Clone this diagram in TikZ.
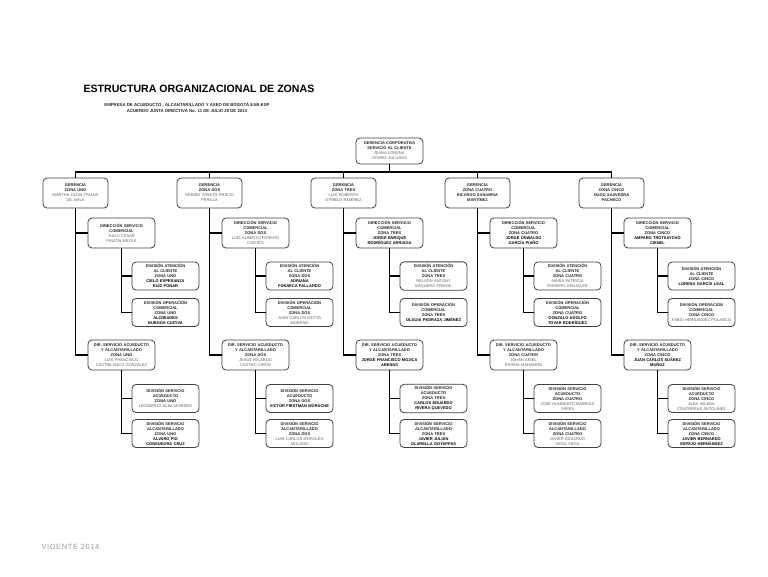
\documentclass[tikz,border=0pt]{standalone}
\usepackage{fontspec}
\setmainfont{Liberation Sans}
\usepackage{tikz}
\usetikzlibrary{positioning}
\newcommand\nom[1]{{\mdseries\color{black!62}#1}}
\newcommand\hv[1]{{\color{black}#1}}

\begin{document}
\begin{tikzpicture}[
  x=1pt, y=-1pt, font=\fontsize{4}{5}\selectfont\bfseries, text=black!85,
  bx/.style={rectangle, rounded corners=4pt, draw=black!75, line width=0.8pt,
             fill=white, align=center, inner sep=2pt},
  ger/.style={bx, text width=61pt, minimum height=30pt},
  dir/.style={bx, text width=63pt, minimum height=30pt},
  div/.style={bx, text width=63pt, minimum height=28pt},
  bus/.style={draw=black, line width=1.2pt},
  tr/.style={draw=black, line width=1.9pt}]
  \useasboundingbox (0,0) rectangle (768,576);
  % titles
  \node[anchor=base west, font=\fontsize{10.6}{12}\selectfont\bfseries, text=black] (ttl)
       at (80,92) {ESTRUCTURA ORGANIZACIONAL DE ZONAS};
  \node[anchor=base, font=\fontsize{4.3}{5}\selectfont\bfseries] (sub1) at (187,106)
       {EMPRESA DE ACUEDUCTO , ALCANTARILLADO  Y ASEO DE BOGOTÁ EAB-ESP};
  \node[anchor=base, font=\fontsize{4.3}{5}\selectfont\bfseries] (sub2) at (187,112)
       {ACUERDO JUNTA DIRECTIVA No. 11 DE JULIO 25 DE 2013};
  \node[bx, text width=63pt, minimum height=26pt] (gcs) at (389.5,151)
       {GERENCIA CORPORATIVA\\SERVICIO AL CLIENTE\\\nom{DIANA LORENA}\\\nom{GÓMEZ ZULUAGA}};
  % zona uno
  \node[ger] (g1)  at (75.5,193)  {GERENCIA\\ZONA UNO\\\nom{MARTHA OLIVA TRIANA}\\\nom{DE AVILA}};
  \node[dir] (dc1) at (121.5,233) {DIRECCIÓN SERVICIO\\COMERCIAL\\\nom{JULIO CESAR}\\\nom{PINZÓN REYES}};
  \node[div] (da1) at (165.5,276) {DIVISIÓN ATENCIÓN\\AL CLIENTE\\ZONA UNO\\\hv{CIELO ESPERANZA}\\\hv{RUÍZ PONAR}};
  \node[div] (do1) at (165.5,312.5) {DIVISIÓN OPERACIÓN\\COMERCIAL\\ZONA UNO\\\hv{ALCIBIADES}\\\hv{BURGOS CUITIVA}};
  \node[dir] (dq1) at (121.5,355) {DIR. SERVICIO ACUEDUCTO\\Y ALCANTARILLADO\\ZONA UNO\\\nom{LUIS FRANCISCO}\\\nom{CASTIBLANCO GONZÁLEZ}};
  \node[div] (va1) at (165.5,398.5) {DIVISIÓN SERVICIO\\ACUEDUCTO\\ZONA UNO\\\nom{LEONARDO ALBA MORENO}};
  \node[div] (vl1) at (165.5,433.5) {DIVISIÓN SERVICIO\\ALCANTARILLADO\\ZONA UNO\\\hv{ALVARO PIO}\\\hv{CONSUEGRA CRUZ}};
  % zona dos
  \node[ger] (g2)  at (209.5,193) {GERENCIA\\ZONA DOS\\\nom{NERIER YANETH PRIETO}\\\nom{PERILLA}};
  \node[dir] (dc2) at (255.5,233) {DIRECCIÓN SERVICIO\\COMERCIAL\\ZONA DOS\\\nom{LUIS ALBERTO FORERO}\\\nom{CORTÉS}};
  \node[div] (da2) at (299.5,276) {DIVISIÓN ATENCIÓN\\AL CLIENTE\\ZONA DOS\\\hv{ADRIANA}\\\hv{FONSECA PALLARDO}};
  \node[div] (do2) at (299.5,312.5) {DIVISIÓN OPERACIÓN\\COMERCIAL\\ZONA DOS\\\nom{JUAN CARLOS MOTTA}\\\nom{MORENO}};
  \node[dir] (dq2) at (255.5,355) {DIR. SERVICIO ACUEDUCTO\\Y ALCANTARILLADO\\ZONA DOS\\\nom{JESÚS RICARDO}\\\nom{CASTRO CIRÓN}};
  \node[div] (va2) at (299.5,398.5) {DIVISIÓN SERVICIO\\ACUEDUCTO\\ZONA DOS\\\hv{VICTOR FIRSTMAN MORACHE}};
  \node[div] (vl2) at (299.5,433.5) {DIVISIÓN SERVICIO\\ALCANTARILLADO\\ZONA DOS\\\nom{LUIS CARLOS MORALES}\\\nom{MOLANO}};
  % zona tres
  \node[ger] (g3)  at (343.5,193) {GERENCIA\\ZONA TRES\\\nom{LUIS ROBERTO}\\\nom{D'PABLO RAMÍREZ}};
  \node[dir] (dc3) at (389.5,233) {DIRECCIÓN SERVICIO\\COMERCIAL\\ZONA TRES\\\hv{JORGE ENRIQUE}\\\hv{RODRÍGUEZ ARRIAGA}};
  \node[div] (da3) at (433.5,276) {DIVISIÓN ATENCIÓN\\AL CLIENTE\\ZONA TRES\\\nom{NELSON ANTONY}\\\nom{BAQUERO PRIEDA}};
  \node[div] (do3) at (433.5,312.5) {DIVISIÓN OPERACIÓN\\COMERCIAL\\ZONA TRES\\\hv{OLGUIA PEDRAZA JIMÉNEZ}};
  \node[dir] (dq3) at (389.5,355) {DIR. SERVICIO ACUEDUCTO\\Y ALCANTARILLADO\\ZONA TRES\\\hv{JORGE FRANCISCO MOJICA}\\\hv{ARENAS}};
  \node[div] (va3) at (433.5,398.5) {DIVISIÓN SERVICIO\\ACUEDUCTO\\ZONA TRES\\\hv{CARLOS EDUARDO}\\\hv{RIVERA QUEVEDO}};
  \node[div] (vl3) at (433.5,433.5) {DIVISIÓN SERVICIO\\ALCANTARILLADO\\ZONA TRES\\\hv{JAVIER JULIÁN}\\\hv{OLARELLA GOYAPPAS}};
  % zona cuatro
  \node[ger] (g4)  at (477.5,193) {GERENCIA\\ZONA CUATRO\\RICARDO SANABRIA\\MARTÍNEZ};
  \node[dir] (dc4) at (523.5,233) {DIRECCIÓN SERVICIO\\COMERCIAL\\ZONA CUATRO\\\hv{JORGE OSWALDO}\\\hv{GARCÍA PIAÑO}};
  \node[div] (da4) at (567.5,276) {DIVISIÓN ATENCIÓN\\AL CLIENTE\\ZONA CUATRO\\\nom{MARÍA PATRICIA}\\\nom{ROMERO GRAJALES}};
  \node[div] (do4) at (567.5,312.5) {DIVISIÓN OPERACIÓN\\COMERCIAL\\ZONA CUATRO\\\hv{GONZALO ADOLFO}\\\hv{TOVAR RODRÍGUEZ}};
  \node[dir] (dq4) at (523.5,355) {DIR. SERVICIO ACUEDUCTO\\Y ALCANTARILLADO\\ZONA CUATRO\\\nom{JOHAN ARIEL}\\\nom{RIVERA MAHAMON}};
  \node[div] (va4) at (567.5,398.5) {DIVISIÓN SERVICIO\\ACUEDUCTO\\ZONA CUATRO\\\nom{JOSÉ HUMBERTO BARRIGA}\\\nom{YEPES}};
  \node[div] (vl4) at (567.5,433.5) {DIVISIÓN SERVICIO\\ALCANTARILLADO\\ZONA CUATRO\\\nom{JAVIER EDUARDO}\\\nom{VEGA VEGA}};
  % zona cinco
  \node[ger] (g5)  at (611.5,193) {GERENCIA\\ZONA CINCO\\HUGO SAAVEDRA\\PACHECO};
  \node[dir] (dc5) at (657.5,233) {DIRECCIÓN SERVICIO\\COMERCIAL\\ZONA CINCO\\\hv{AMPARO TROTSAYCHO}\\\hv{CIENEL}};
  \node[div] (da5) at (701.5,276) {DIVISIÓN ATENCIÓN\\AL CLIENTE\\ZONA CINCO\\\hv{LORENA GARCÍA LEAL}};
  \node[div] (do5) at (701.5,312.5) {DIVISIÓN OPERACIÓN\\COMERCIAL\\ZONA CINCO\\\nom{FABIO HERNÁNDEZ POLANCO}};
  \node[dir] (dq5) at (657.5,355) {DIR. SERVICIO ACUEDUCTO\\Y ALCANTARILLADO\\ZONA CINCO\\\hv{JUAN CARLOS SUÁREZ}\\\hv{MUÑOZ}};
  \node[div] (va5) at (701.5,398.5) {DIVISIÓN SERVICIO\\ACUEDUCTO\\ZONA CINCO\\\nom{ALBA MILENA}\\\nom{CONTRERAS ANTOLÍNEZ}};
  \node[div] (vl5) at (701.5,433.5) {DIVISIÓN SERVICIO\\ALCANTARILLADO\\ZONA CINCO\\\hv{JAVIER BERNARDO}\\\hv{ESPEJO HERNÁNDEZ}};
  % footer
  \node[anchor=base west, font=\fontsize{7.5}{9}\selectfont\addfontfeatures{LetterSpace=8},
        text=black!40] (vig) at (38,549) {VIGENTE 2014};
  % bus
  \coordinate (bj) at (389.5,172);
  \draw[bus] (gcs.south) -- (bj);
  \draw[bus] (g1.north) |- (bj) -| (g5.north);
  \draw[bus] (g2.north) -- (g2.north |- bj);
  \draw[bus] (g3.north) -- (g3.north |- bj);
  \draw[bus] (g4.north) -- (g4.north |- bj);
  % trunks
  \draw[tr] (g1.south) |- (dq1.west);
  \draw[tr] (g1.south |- dc1.west) -- (dc1.west);
  \draw[tr] (dc1.south) |- (do1.west);
  \draw[tr] (dc1.south |- da1.west) -- (da1.west);
  \draw[tr] (dq1.south) |- (vl1.west);
  \draw[tr] (dq1.south |- va1.west) -- (va1.west);
  \draw[tr] (g2.south) |- (dq2.west);
  \draw[tr] (g2.south |- dc2.west) -- (dc2.west);
  \draw[tr] (dc2.south) |- (do2.west);
  \draw[tr] (dc2.south |- da2.west) -- (da2.west);
  \draw[tr] (dq2.south) |- (vl2.west);
  \draw[tr] (dq2.south |- va2.west) -- (va2.west);
  \draw[tr] (g3.south) |- (dq3.west);
  \draw[tr] (g3.south |- dc3.west) -- (dc3.west);
  \draw[tr] (dc3.south) |- (do3.west);
  \draw[tr] (dc3.south |- da3.west) -- (da3.west);
  \draw[tr] (dq3.south) |- (vl3.west);
  \draw[tr] (dq3.south |- va3.west) -- (va3.west);
  \draw[tr] (g4.south) |- (dq4.west);
  \draw[tr] (g4.south |- dc4.west) -- (dc4.west);
  \draw[tr] (dc4.south) |- (do4.west);
  \draw[tr] (dc4.south |- da4.west) -- (da4.west);
  \draw[tr] (dq4.south) |- (vl4.west);
  \draw[tr] (dq4.south |- va4.west) -- (va4.west);
  \draw[tr] (g5.south) |- (dq5.west);
  \draw[tr] (g5.south |- dc5.west) -- (dc5.west);
  \draw[tr] (dc5.south) |- (do5.west);
  \draw[tr] (dc5.south |- da5.west) -- (da5.west);
  \draw[tr] (dq5.south) |- (vl5.west);
  \draw[tr] (dq5.south |- va5.west) -- (va5.west);
\end{tikzpicture}
\end{document}
